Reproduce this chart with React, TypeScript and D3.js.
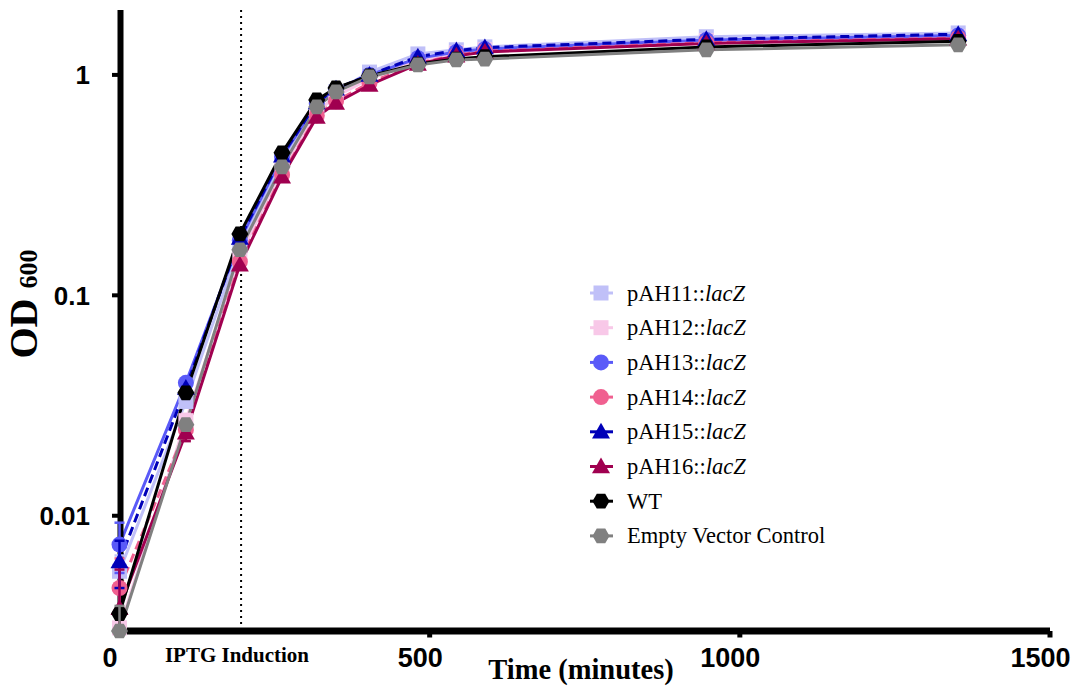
import React from "react";
import * as d3 from "d3";

const times = [0, 107, 194, 262, 318, 349, 403, 481, 543, 589, 946, 1352];

const pAH11 = [0.0056, 0.033, 0.168, 0.41, 0.72, 0.84, 1.03, 1.245, 1.3, 1.34, 1.49, 1.55];
const pAH12 = [0.0031, 0.027, 0.152, 0.37, 0.68, 0.8, 0.96, 1.16, 1.26, 1.3, 1.43, 1.49];
const pAH13 = [0.0074, 0.0401, 0.178, 0.425, 0.74, 0.86, 1.0, 1.19, 1.27, 1.31, 1.44, 1.51];
const pAH14 = [0.0047, 0.0245, 0.142, 0.352, 0.655, 0.76, 0.92, 1.13, 1.23, 1.28, 1.4, 1.47];
const pAH15 = [0.0062, 0.038, 0.182, 0.43, 0.75, 0.865, 1.0, 1.21, 1.29, 1.33, 1.45, 1.53];
const pAH16 = [0.0038, 0.0238, 0.1375, 0.345, 0.645, 0.746, 0.9, 1.12, 1.22, 1.27, 1.39, 1.46];
const WT = [0.0036, 0.0361, 0.19, 0.443, 0.77, 0.873, 0.99, 1.12, 1.18, 1.21, 1.34, 1.42];
const EVC = [0.003, 0.0259, 0.161, 0.383, 0.716, 0.837, 0.979, 1.11, 1.17, 1.18, 1.3, 1.37];

const err11 = [0.001, 0, 0, 0, 0, 0, 0, 0, 0, 0, 0, 0];
const err12 = [0, 0.002, 0, 0, 0, 0, 0, 0, 0, 0, 0, 0];
const err13 = [0.0019, 0, 0, 0, 0, 0, 0, 0, 0, 0, 0, 0];
const err14 = [0.0017, 0.002, 0, 0, 0, 0, 0, 0, 0, 0, 0, 0];
const err15 = [0.0015, 0, 0, 0, 0, 0, 0, 0, 0, 0, 0, 0];
const err16 = [0.0019, 0.002, 0, 0, 0, 0, 0, 0, 0, 0, 0, 0];
const errWT = [0, 0, 0, 0, 0, 0, 0, 0, 0, 0, 0, 0];
const errEVC = [0.0009, 0, 0, 0, 0, 0, 0, 0, 0, 0, 0, 0];

const seriesNames = ["pAH11::", "pAH12::", "pAH13::", "pAH14::", "pAH15::", "pAH16::", "WT", "Empty Vector Control"];
const seriesItalic = ["lacZ", "lacZ", "lacZ", "lacZ", "lacZ", "lacZ", "", ""];
const seriesValues = [pAH11, pAH12, pAH13, pAH14, pAH15, pAH16, WT, EVC];
const seriesErrors = [err11, err12, err13, err14, err15, err16, errWT, errEVC];
const seriesColors = ["#c0c0f8", "#f8c8e8", "#5a5af8", "#f06090", "#0000b8", "#a00050", "#000000", "#808080"];
const seriesShapes = ["square", "square", "circle", "circle", "triangle", "triangle", "hexagon", "hexagon"];
const seriesDashed = [false, false, false, true, true, false, false, false];

const xTicks = [0, 500, 1000, 1500];
const yTicks = [0.01, 0.1, 1];
const yTickLabels = ["0.01", "0.1", "1"];
const inductionTime = 196;

const SERIF = "'Liberation Serif', 'Times New Roman', serif";
const SANS = "'Liberation Sans', Arial, sans-serif";

function Marker({ shape, x, y, color }: { shape: string; x: number; y: number; color: string }) {
  if (shape === "square") {
    return <rect x={x - 7.5} y={y - 7.5} width={15} height={15} fill={color} />;
  }
  if (shape === "circle") {
    return <circle cx={x} cy={y} r={8} fill={color} />;
  }
  if (shape === "triangle") {
    const s = 9;
    const pts = [
      [x, y - s],
      [x + s * 1.0, y + s * 0.75],
      [x - s * 1.0, y + s * 0.75],
    ];
    return <polygon points={pts.map((p) => p.join(",")).join(" ")} fill={color} />;
  }
  const r = 8.5;
  const pts = d3.range(6).map((i) => {
    const a = (Math.PI / 3) * i;
    return [x + r * Math.cos(a), y + r * Math.sin(a)];
  });
  return <polygon points={pts.map((p) => p.join(",")).join(" ")} fill={color} />;
}

export default function App() {
  const x = d3.scaleLinear().domain([0, 1500]).range([119.5, 1050]);
  const y = d3.scaleLog().domain([0.003, 1.97]).range([631, 10]);
  const line = d3
    .line<number>()
    .x((_, i) => x(times[i]))
    .y((v) => y(v));

  const legendX = 601;
  const legendY0 = 293;
  const legendStep = 34.7;

  return (
    <svg
      width={1079}
      height={690}
      style={{ position: "absolute", left: 0, top: 0, display: "block", background: "#fff" }}
    >
      {/* induction line */}
      <line
        x1={x(inductionTime)}
        x2={x(inductionTime)}
        y1={10}
        y2={628}
        stroke="#000"
        strokeWidth={2}
        strokeDasharray="2,4"
      />

      {/* series lines */}
      {seriesValues.map((vals, si) => (
        <path
          key={"l" + si}
          d={line(vals) || ""}
          fill="none"
          stroke={seriesColors[si]}
          strokeWidth={3}
          strokeDasharray={seriesDashed[si] ? "9,5" : undefined}
        />
      ))}

      {/* axes */}
      <line x1={120.5} x2={120.5} y1={10} y2={634.5} stroke="#000" strokeWidth={6} />
      <line x1={117.5} x2={1050} y1={631} y2={631} stroke="#000" strokeWidth={7} />
      {yTicks.map((t) => (
        <line key={"yt" + t} x1={112} x2={120} y1={y(t)} y2={y(t)} stroke="#000" strokeWidth={4} />
      ))}
      {xTicks.map((t) => (
        <line key={"xt" + t} x1={x(t)} x2={x(t)} y1={631} y2={637.5} stroke="#000" strokeWidth={5} />
      ))}

      {/* error bars and markers */}
      {seriesValues.map((vals, si) => (
        <g key={"m" + si}>
          {vals.map((v, i) => {
            const e = seriesErrors[si][i];
            if (!e) return null;
            const lo = y(Math.max(v - e, 0.003));
            const hi = y(v + e);
            const cx = x(times[i]);
            return (
              <g key={"e" + i} stroke={seriesColors[si]} strokeWidth={2.5}>
                <line x1={cx} x2={cx} y1={lo} y2={hi} />
                <line x1={cx - 5} x2={cx + 5} y1={hi} y2={hi} />
                <line x1={cx - 5} x2={cx + 5} y1={lo} y2={lo} />
              </g>
            );
          })}
          {vals.map((v, i) => (
            <Marker key={i} shape={seriesShapes[si]} x={x(times[i])} y={y(v)} color={seriesColors[si]} />
          ))}
        </g>
      ))}

      {/* tick labels */}
      {xTicks.map((t) => (
        <text
          key={"xl" + t}
          x={x(t) - 9.5}
          y={667}
          textAnchor="middle"
          fontFamily={SANS}
          fontWeight="bold"
          fontSize={27}
          fill="#000"
        >
          {t}
        </text>
      ))}
      {yTicks.map((t, i) => (
        <text
          key={"yl" + t}
          x={90}
          y={y(t) + 9.5}
          textAnchor="end"
          fontFamily={SANS}
          fontWeight="bold"
          fontSize={26}
          fill="#000"
        >
          {yTickLabels[i]}
        </text>
      ))}

      {/* axis titles */}
      <text x={581} y={679} textAnchor="middle" fontFamily={SERIF} fontWeight="bold" fontSize={28.5} fill="#000">
        Time (minutes)
      </text>
      <text
        transform="translate(37,304) rotate(-90)"
        textAnchor="middle"
        fontFamily={SERIF}
        fontWeight="bold"
        fill="#000"
      >
        <tspan fontSize={40}>OD </tspan>
        <tspan fontSize={26}>600</tspan>
      </text>
      <text x={237} y={662} textAnchor="middle" fontFamily={SERIF} fontWeight="bold" fontSize={21} fill="#000">
        IPTG Induction
      </text>

      {/* legend */}
      {seriesNames.map((name, si) => {
        const cy = legendY0 + si * legendStep;
        return (
          <g key={"lg" + si}>
            <line
              x1={legendX - 11}
              x2={legendX + 12}
              y1={cy}
              y2={cy}
              stroke={seriesColors[si]}
              strokeWidth={3}
            />
            <Marker shape={seriesShapes[si]} x={legendX} y={cy} color={seriesColors[si]} />
            <text x={627} y={cy + 7.5} fontFamily={SERIF} fontSize={22.5} fill="#000">
              {name}
              {seriesItalic[si] ? <tspan fontStyle="italic">{seriesItalic[si]}</tspan> : null}
            </text>
          </g>
        );
      })}
    </svg>
  );
}
